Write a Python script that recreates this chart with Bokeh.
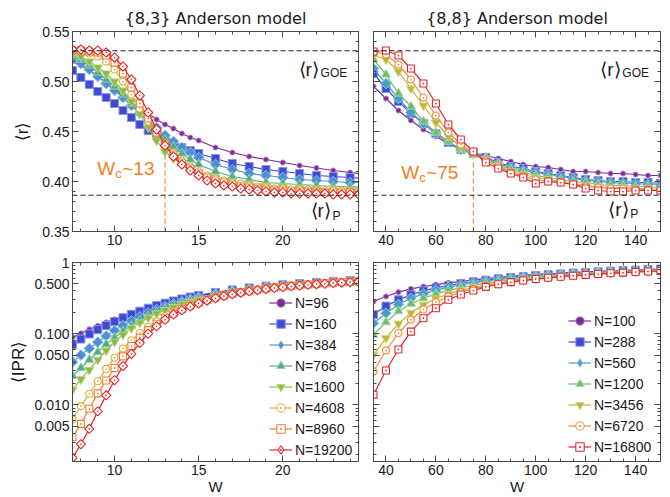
from bokeh.plotting import figure
from bokeh.models import (Span, Label, Legend, LegendItem, LinearAxis, LogAxis,
                          FixedTicker, SingleIntervalTicker, CustomJSTickFormatter,
                          PrintfTickFormatter, Range1d, Title)
from bokeh.layouts import column, row
from bokeh.embed import file_html
from bokeh.resources import INLINE

# ---------------- data ----------------
# {8,3} model: disorder grids
W83_coarse = [7.5, 8.0, 8.5, 9.0, 9.5, 10.0, 10.5, 11.0, 11.5, 12.0, 12.5, 13.0, 13.5, 14.0, 14.5, 15.0,
              16.0, 17.0, 18.0, 19.0, 20.0, 21.0, 22.0, 23.0, 24.0, 25.0]
W83_fine = [7.5, 8.0, 8.5, 9.0, 9.5, 10.0, 10.5, 11.0, 11.5, 12.0, 12.5, 13.0, 13.5, 14.0, 14.5, 15.0,
            15.5, 16.0, 16.5, 17.0, 17.5, 18.0, 18.5, 19.0, 19.5, 20.0, 20.5, 21.0, 21.5, 22.0, 22.5,
            23.0, 23.5, 24.0, 24.5, 25.0]
N83 = [96, 160, 384, 768, 1600, 4608, 8960, 19200]

r83_96 = [0.520, 0.516, 0.511, 0.505, 0.499, 0.492, 0.486, 0.479, 0.473, 0.468, 0.462, 0.457, 0.453, 0.448, 0.444, 0.441,
          0.434, 0.429, 0.425, 0.422, 0.419, 0.416, 0.4135, 0.411, 0.409, 0.407]
r83_160 = [0.511, 0.504, 0.497, 0.490, 0.484, 0.478, 0.471, 0.464, 0.457, 0.451, 0.446, 0.442, 0.438, 0.434, 0.431, 0.428,
           0.423, 0.418, 0.415, 0.412, 0.410, 0.408, 0.406, 0.405, 0.404, 0.403]
r83_384 = [0.523, 0.518, 0.512, 0.505, 0.498, 0.491, 0.484, 0.476, 0.468, 0.461, 0.454, 0.446, 0.440, 0.434, 0.429, 0.424,
           0.417, 0.412, 0.408, 0.406, 0.404, 0.402, 0.401, 0.400, 0.399, 0.399]
r83_768 = [0.526, 0.522, 0.516, 0.509, 0.502, 0.495, 0.487, 0.478, 0.469, 0.460, 0.451, 0.442, 0.435, 0.428, 0.422, 0.417,
           0.410, 0.405, 0.402, 0.399, 0.398, 0.397, 0.396, 0.395, 0.395, 0.394]
r83_1600 = [0.528, 0.525, 0.520, 0.514, 0.508, 0.500, 0.491, 0.480, 0.468, 0.454, 0.441, 0.430, 0.423, 0.418, 0.413, 0.409,
            0.404, 0.400, 0.398, 0.396, 0.395, 0.394, 0.393, 0.393, 0.392, 0.392]
r83_4608 = [0.530, 0.530, 0.528, 0.525, 0.520, 0.512, 0.500, 0.487, 0.473, 0.460, 0.448, 0.438, 0.429, 0.421, 0.415, 0.410,
            0.406, 0.403, 0.401, 0.399, 0.398, 0.396, 0.395, 0.394, 0.393, 0.393, 0.392, 0.392, 0.392, 0.391, 0.391,
            0.391, 0.391, 0.390, 0.390, 0.390]
r83_8960 = [0.531, 0.531, 0.530, 0.529, 0.526, 0.519, 0.508, 0.494, 0.478, 0.463, 0.449, 0.437, 0.427, 0.419, 0.413, 0.408,
            0.404, 0.401, 0.399, 0.397, 0.395, 0.394, 0.393, 0.392, 0.391, 0.391, 0.390, 0.390, 0.390, 0.389, 0.389,
            0.389, 0.389, 0.389, 0.389, 0.389]
r83_19200 = [0.532, 0.532, 0.531, 0.531, 0.529, 0.524, 0.515, 0.502, 0.486, 0.469, 0.452, 0.436, 0.425, 0.417, 0.411, 0.406,
             0.401, 0.398, 0.396, 0.395, 0.393, 0.392, 0.391, 0.390, 0.389, 0.389, 0.388, 0.388, 0.388, 0.388, 0.388,
             0.387, 0.387, 0.387, 0.387, 0.387]

ipr83_96 = [0.089, 0.101, 0.115, 0.129, 0.144, 0.160, 0.177, 0.195, 0.213, 0.232, 0.250, 0.269, 0.287, 0.305, 0.322, 0.339,
            0.372, 0.403, 0.431, 0.456, 0.479, 0.500, 0.519, 0.536, 0.552, 0.566]
ipr83_160 = [0.070, 0.084, 0.099, 0.114, 0.130, 0.148, 0.167, 0.187, 0.207, 0.228, 0.248, 0.268, 0.288, 0.308, 0.327, 0.345,
             0.380, 0.412, 0.440, 0.465, 0.487, 0.507, 0.525, 0.541, 0.556, 0.570]
ipr83_384 = [0.040, 0.050, 0.062, 0.076, 0.093, 0.111, 0.130, 0.151, 0.173, 0.196, 0.218, 0.240, 0.262, 0.283, 0.304, 0.324,
             0.362, 0.396, 0.426, 0.452, 0.476, 0.497, 0.516, 0.534, 0.550, 0.564]
ipr83_768 = [0.0255, 0.033, 0.043, 0.055, 0.071, 0.088, 0.108, 0.129, 0.152, 0.176, 0.200, 0.223, 0.246, 0.268, 0.290, 0.312,
             0.352, 0.388, 0.419, 0.446, 0.470, 0.492, 0.512, 0.530, 0.546, 0.560]
ipr83_1600 = [0.0163, 0.0229, 0.031, 0.043, 0.058, 0.077, 0.097, 0.120, 0.143, 0.168, 0.192, 0.214, 0.236, 0.258, 0.279, 0.300,
              0.340, 0.376, 0.408, 0.436, 0.461, 0.484, 0.504, 0.522, 0.538, 0.553]
ipr83_4608 = [0.0063, 0.0096, 0.0143, 0.0215, 0.032, 0.046, 0.062, 0.081, 0.102, 0.125, 0.150, 0.176, 0.203, 0.230, 0.256, 0.281,
              0.305, 0.328, 0.349, 0.369, 0.388, 0.405, 0.421, 0.436, 0.450, 0.463, 0.475, 0.486, 0.497, 0.507, 0.516,
              0.525, 0.533, 0.541, 0.548, 0.555]
ipr83_8960 = [0.0035, 0.0054, 0.0088, 0.0145, 0.022, 0.033, 0.048, 0.067, 0.088, 0.112, 0.138, 0.165, 0.193, 0.220, 0.247, 0.273,
              0.298, 0.321, 0.343, 0.363, 0.382, 0.399, 0.415, 0.430, 0.444, 0.457, 0.469, 0.480, 0.491, 0.501, 0.510,
              0.519, 0.527, 0.535, 0.542, 0.549]
ipr83_19200 = [0.0018, 0.0028, 0.0046, 0.0081, 0.0136, 0.0222, 0.035, 0.052, 0.074, 0.100, 0.127, 0.157, 0.186, 0.213, 0.240, 0.266,
               0.291, 0.315, 0.337, 0.357, 0.376, 0.393, 0.409, 0.424, 0.438, 0.451, 0.463, 0.474, 0.485, 0.495, 0.504,
               0.513, 0.521, 0.529, 0.536, 0.543]

# {8,8} model
W88 = [35, 40, 45, 50, 55, 60, 65, 70, 75, 80, 85, 90, 95, 100, 105, 110, 115, 120, 125, 130, 135, 140, 145, 150]
N88 = [100, 288, 560, 1200, 3456, 6720, 16800]

r88_100 = [0.495, 0.483, 0.471, 0.461, 0.452, 0.445, 0.438, 0.432, 0.429, 0.426, 0.423, 0.420, 0.417, 0.415, 0.414, 0.412,
           0.410, 0.410, 0.409, 0.408, 0.408, 0.407, 0.406, 0.406]
r88_288 = [0.508, 0.493, 0.480, 0.468, 0.458, 0.448, 0.439, 0.432, 0.428, 0.424, 0.419, 0.415, 0.413, 0.410, 0.408, 0.406,
           0.404, 0.402, 0.401, 0.400, 0.400, 0.399, 0.399, 0.398]
r88_560 = [0.513, 0.498, 0.483, 0.469, 0.458, 0.448, 0.440, 0.432, 0.428, 0.423, 0.418, 0.414, 0.411, 0.409, 0.407, 0.405,
           0.403, 0.401, 0.400, 0.399, 0.398, 0.398, 0.397, 0.397]
r88_1200 = [0.522, 0.507, 0.488, 0.475, 0.460, 0.449, 0.440, 0.432, 0.427, 0.423, 0.417, 0.412, 0.409, 0.406, 0.404, 0.402,
            0.400, 0.399, 0.397, 0.396, 0.396, 0.395, 0.395, 0.394]
r88_3456 = [0.526, 0.522, 0.510, 0.493, 0.476, 0.459, 0.445, 0.435, 0.428, 0.422, 0.416, 0.410, 0.407, 0.404, 0.402, 0.400,
            0.398, 0.396, 0.395, 0.394, 0.394, 0.393, 0.393, 0.392]
r88_6720 = [0.530, 0.527, 0.517, 0.502, 0.484, 0.466, 0.449, 0.437, 0.429, 0.421, 0.415, 0.409, 0.405, 0.402, 0.400, 0.399,
            0.397, 0.395, 0.394, 0.393, 0.393, 0.392, 0.392, 0.391]
r88_16800 = [0.530, 0.531, 0.526, 0.513, 0.498, 0.478, 0.457, 0.442, 0.430, 0.419, 0.413, 0.408, 0.404, 0.398, 0.400, 0.399,
             0.397, 0.393, 0.391, 0.390, 0.390, 0.391, 0.391, 0.391]

ipr88_100 = [0.283, 0.333, 0.383, 0.427, 0.460, 0.490, 0.518, 0.540, 0.570, 0.595, 0.620, 0.640, 0.660, 0.680, 0.695, 0.710,
             0.725, 0.740, 0.750, 0.765, 0.775, 0.785, 0.795, 0.805]
ipr88_288 = [0.186, 0.244, 0.299, 0.352, 0.400, 0.440, 0.475, 0.505, 0.535, 0.565, 0.590, 0.615, 0.635, 0.655, 0.675, 0.690,
             0.710, 0.725, 0.740, 0.755, 0.770, 0.780, 0.795, 0.810]
ipr88_560 = [0.140, 0.194, 0.257, 0.315, 0.363, 0.410, 0.450, 0.483, 0.515, 0.545, 0.572, 0.598, 0.620, 0.642, 0.662, 0.680,
             0.698, 0.714, 0.730, 0.745, 0.758, 0.770, 0.782, 0.794]
ipr88_1200 = [0.0965, 0.145, 0.207, 0.263, 0.315, 0.362, 0.405, 0.443, 0.478, 0.510, 0.540, 0.567, 0.592, 0.615, 0.637, 0.657,
              0.676, 0.693, 0.710, 0.725, 0.740, 0.753, 0.766, 0.778]
ipr88_3456 = [0.0505, 0.0865, 0.138, 0.196, 0.255, 0.312, 0.360, 0.405, 0.445, 0.480, 0.513, 0.543, 0.570, 0.595, 0.618, 0.640,
              0.660, 0.678, 0.695, 0.711, 0.726, 0.740, 0.753, 0.765]
ipr88_6720 = [0.0294, 0.058, 0.102, 0.157, 0.219, 0.277, 0.333, 0.383, 0.427, 0.465, 0.500, 0.532, 0.560, 0.586, 0.610, 0.632,
              0.653, 0.672, 0.690, 0.706, 0.722, 0.736, 0.749, 0.762]
ipr88_16800 = [0.0139, 0.0304, 0.060, 0.107, 0.165, 0.228, 0.299, 0.355, 0.404, 0.455, 0.495, 0.530, 0.558, 0.585, 0.610, 0.632,
               0.652, 0.670, 0.688, 0.705, 0.720, 0.735, 0.748, 0.760]

R_GOE = 0.5307
R_P = 0.3863
WC_83 = 13
WC_88 = 75
R_WC_TOP = 0.435
R_MIN, R_MAX = 0.35, 0.55
IPR_MIN, IPR_MAX = 0.0016, 1.0
IPR_TICKS = [0.005, 0.01, 0.05, 0.1, 0.5, 1.0]
IPR_MINOR = [0.002, 0.003, 0.004, 0.006, 0.007, 0.008, 0.009,
             0.02, 0.03, 0.04, 0.06, 0.07, 0.08, 0.09,
             0.2, 0.3, 0.4, 0.6, 0.7, 0.8, 0.9]

# ---------------- style ----------------
FRAME = "#4a4a4a"
TXT = "#1a1a1a"
TF = "Liberation Sans"
ORANGE = "#f47f20"

# color, marker, size, hollow, angle (deg), legend marker, legend size
styles83 = [
    ("#7c2b94", "circle", 5, False, 0, "circle", 5),
    ("#3d4bd3", "square", 8, False, 0, "square", 8),
    ("#4a90d4", "square", 7.5, False, 45, "diamond", 12),
    ("#52ab85", "triangle", 9, False, 0, "triangle", 9),
    ("#8dbb3e", "inverted_triangle", 9, False, 0, "inverted_triangle", 9),
    ("#d9b13c", "circle_dot", 7, True, 0, "circle_dot", 7),
    ("#f27b2e", "square_dot", 7, True, 0, "square_dot", 7),
    ("#e2272c", "square_dot", 6.5, True, 45, "diamond_dot", 11),
]
styles88 = [
    ("#7c2b94", "circle", 5, False, 0, "circle", 5),
    ("#3d4bd3", "square", 8, False, 0, "square", 8),
    ("#4a9ec6", "square", 7.5, False, 45, "diamond", 12),
    ("#6dbd6e", "triangle", 9, False, 0, "triangle", 9),
    ("#bcb832", "inverted_triangle", 9, False, 0, "inverted_triangle", 9),
    ("#f38a35", "circle_dot", 7, True, 0, "circle_dot", 7),
    ("#e2272c", "square_dot", 7, True, 0, "square_dot", 7),
]


def tint(c, f=0.4):
    r, g, b = int(c[1:3], 16), int(c[3:5], 16), int(c[5:7], 16)
    r = int(r + (255 - r) * f)
    g = int(g + (255 - g) * f)
    b = int(b + (255 - b) * f)
    return "#%02x%02x%02x" % (r, g, b)


def style_axis(ax, labels=True):
    ax.major_tick_in = 6
    ax.major_tick_out = 0
    ax.minor_tick_in = 3
    ax.minor_tick_out = 0
    ax.axis_line_color = FRAME
    ax.major_tick_line_color = FRAME
    ax.minor_tick_line_color = FRAME
    ax.major_label_text_font = TF
    if labels:
        ax.major_label_text_color = TXT
        ax.major_label_text_font_size = "14px"
        ax.major_label_standoff = 3
    else:
        ax.major_label_text_color = None
        ax.major_label_text_font_size = "1px"
        ax.major_label_standoff = 0


def make_fig(xr, yr, fw, fh, bl, br, bt, bb, xt, yt, log=False, xlab=True, ylab=True, yfmt=None):
    p = figure(x_range=Range1d(*xr), y_range=Range1d(*yr),
               y_axis_type=("log" if log else "linear"),
               frame_width=fw, frame_height=fh, min_border=0,
               min_border_left=bl, min_border_right=br, min_border_top=bt, min_border_bottom=bb,
               toolbar_location=None, tools="", output_backend="svg", title=None)
    p.xgrid.visible = False
    p.ygrid.visible = False
    p.outline_line_color = FRAME
    p.background_fill_color = "white"
    p.border_fill_color = "white"
    xa = p.below[0]
    ya = p.left[0]
    xa.ticker = xt
    ya.ticker = yt
    style_axis(xa, xlab)
    style_axis(ya, ylab)
    if yfmt is not None:
        ya.formatter = yfmt
    top = LinearAxis(ticker=xt)
    style_axis(top, False)
    p.add_layout(top, "above")
    right = LogAxis(ticker=yt) if log else LinearAxis(ticker=yt)
    style_axis(right, False)
    p.add_layout(right, "right")
    return p


def marker_kw(color, hollow):
    if hollow:
        return dict(fill_color="white", line_color=color, line_width=1.1)
    return dict(fill_color=color, line_color=tint(color), line_width=1)


def draw_series(p, xs, ys, st, legend=False):
    color, marker, size, hollow, ang, lmarker, lsize = st
    lr = p.line(xs, ys, line_color=color, line_width=1.2)
    sr = p.scatter(xs, ys, marker=marker, size=size, angle=ang, angle_units="deg",
                   **marker_kw(color, hollow))
    if not legend:
        return None
    if ang == 0:
        return [lr, sr]
    # legend glyphs are drawn unrotated: use a hidden renderer with the matching shape
    lg = p.scatter(xs, ys, marker=lmarker, size=lsize, visible=False, **marker_kw(color, hollow))
    return [lr, lg]


def add_title(p, text):
    p.add_layout(Title(text=text, align="center", text_font="DejaVu Sans",
                       text_font_size="16px", text_font_style="normal",
                       text_color=TXT, standoff=8), "above")


def add_text(p, x, y, text, size, color=TXT, xoff=0):
    p.add_layout(Label(x=x, y=y, text=text, text_font=TF, text_font_size=size,
                       text_color=color, text_baseline="middle", text_align="left",
                       x_offset=xoff))


# ---------------- layout numbers ----------------
FW_L, FW_R = 286, 287
FH_T, FH_B = 200, 199

xt83 = SingleIntervalTicker(interval=5, num_minor_ticks=5)
xt88 = SingleIntervalTicker(interval=20, num_minor_ticks=4)
yt_r = SingleIntervalTicker(interval=0.05, num_minor_ticks=5)
yt_ipr = FixedTicker(ticks=IPR_TICKS, minor_ticks=IPR_MINOR)
fmt_r = PrintfTickFormatter(format="%.2f")
fmt_ipr = CustomJSTickFormatter(code="return tick >= 1 ? '1' : tick.toFixed(3);")

# top-left
p1 = make_fig((7.5, 24.5), (R_MIN, R_MAX), FW_L, FH_T, 72, 7, 31, 24, xt83, yt_r, yfmt=fmt_r)
# top-right
p2 = make_fig((35, 150), (R_MIN, R_MAX), FW_R, FH_T, 8, 8, 31, 24, xt88, yt_r, ylab=False)
# bottom-left
p3 = make_fig((7.5, 24.5), (IPR_MIN, IPR_MAX), FW_L, FH_B, 72, 7, 7, 34, xt83, yt_ipr, log=True, yfmt=fmt_ipr)
# bottom-right
p4 = make_fig((35, 150), (IPR_MIN, IPR_MAX), FW_R, FH_B, 8, 8, 7, 34, xt88, yt_ipr, log=True, ylab=False)

add_title(p1, "{8,3} Anderson model")
add_title(p2, "{8,8} Anderson model")

for p, lab in ((p1, "⟨r⟩"), (p3, "⟨IPR⟩")):
    ya = p.left[0]
    ya.axis_label = lab
    ya.axis_label_text_font = TF
    ya.axis_label_text_font_size = "17px"
    ya.axis_label_text_font_style = "normal"
    ya.axis_label_text_color = TXT
    ya.axis_label_standoff = 7 if p is p1 else 3

for p in (p3, p4):
    xa = p.below[0]
    xa.axis_label = "W"
    xa.axis_label_text_font = TF
    xa.axis_label_text_font_size = "15px"
    xa.axis_label_text_font_style = "normal"
    xa.axis_label_text_color = TXT
    xa.axis_label_standoff = 0
    xa.major_label_standoff = 3

# reference lines
for p in (p1, p2):
    p.add_layout(Span(location=R_GOE, dimension="width", line_color="#222222",
                      line_dash="5 3", line_width=1.1))
    p.add_layout(Span(location=R_P, dimension="width", line_color="#222222",
                      line_dash="5 3", line_width=1.1))
p1.segment(x0=[WC_83], y0=[R_WC_TOP], x1=[WC_83], y1=[R_MIN], line_color=ORANGE,
           line_dash="5 3", line_width=1.1)
p2.segment(x0=[WC_88], y0=[R_WC_TOP], x1=[WC_88], y1=[R_MIN], line_color=ORANGE,
           line_dash="5 3", line_width=1.1)

# series
r83 = [r83_96, r83_160, r83_384, r83_768, r83_1600, r83_4608, r83_8960, r83_19200]
ipr83 = [ipr83_96, ipr83_160, ipr83_384, ipr83_768, ipr83_1600, ipr83_4608, ipr83_8960, ipr83_19200]
r88 = [r88_100, r88_288, r88_560, r88_1200, r88_3456, r88_6720, r88_16800]
ipr88 = [ipr88_100, ipr88_288, ipr88_560, ipr88_1200, ipr88_3456, ipr88_6720, ipr88_16800]

items3 = []
for i, n in enumerate(N83):
    xs = W83_coarse if len(r83[i]) == len(W83_coarse) else W83_fine
    draw_series(p1, xs, r83[i], styles83[i])
    xs2 = W83_coarse if len(ipr83[i]) == len(W83_coarse) else W83_fine
    rs = draw_series(p3, xs2, ipr83[i], styles83[i], legend=True)
    items3.append(LegendItem(label="N=%d" % n, renderers=rs))

items4 = []
for i, n in enumerate(N88):
    draw_series(p2, W88, r88[i], styles88[i])
    rs = draw_series(p4, W88, ipr88[i], styles88[i], legend=True)
    items4.append(LegendItem(label="N=%d" % n, renderers=rs))


def make_legend(items, loc):
    return Legend(items=items, location=loc, background_fill_alpha=0,
                  border_line_alpha=0, padding=0, margin=0, spacing=0,
                  glyph_width=23, glyph_height=21, label_height=21,
                  label_standoff=3, label_text_font=TF, label_text_font_size="14px",
                  label_text_color=TXT)


p3.add_layout(make_legend(items3, (197, 1)))
p4.add_layout(make_legend(items4, (195, 4)))

# annotations
add_text(p1, 20.94, 0.512, "⟨r⟩", "19px")
add_text(p1, 20.94, 0.5085, "GOE", "12px", xoff=22)
add_text(p1, 21.65, 0.371, "⟨r⟩", "19px")
add_text(p1, 21.65, 0.366, "P", "12px", xoff=22)
add_text(p2, 125.9, 0.512, "⟨r⟩", "19px")
add_text(p2, 125.9, 0.5085, "GOE", "12px", xoff=22)
add_text(p2, 129.1, 0.3725, "⟨r⟩", "19px")
add_text(p2, 129.1, 0.3675, "P", "12px", xoff=22)

add_text(p1, 8.97, 0.413, "W", "19px", ORANGE)
add_text(p1, 8.97, 0.408, "c", "13px", ORANGE, xoff=18)
add_text(p1, 8.97, 0.413, "~13", "19px", ORANGE, xoff=25)
add_text(p2, 46.1, 0.409, "W", "19px", ORANGE)
add_text(p2, 46.1, 0.404, "c", "13px", ORANGE, xoff=18)
add_text(p2, 46.1, 0.409, "~75", "19px", ORANGE, xoff=25)

layout = column(row(p1, p2), row(p3, p4))
open("out.html", "w").write(file_html(layout, INLINE))
